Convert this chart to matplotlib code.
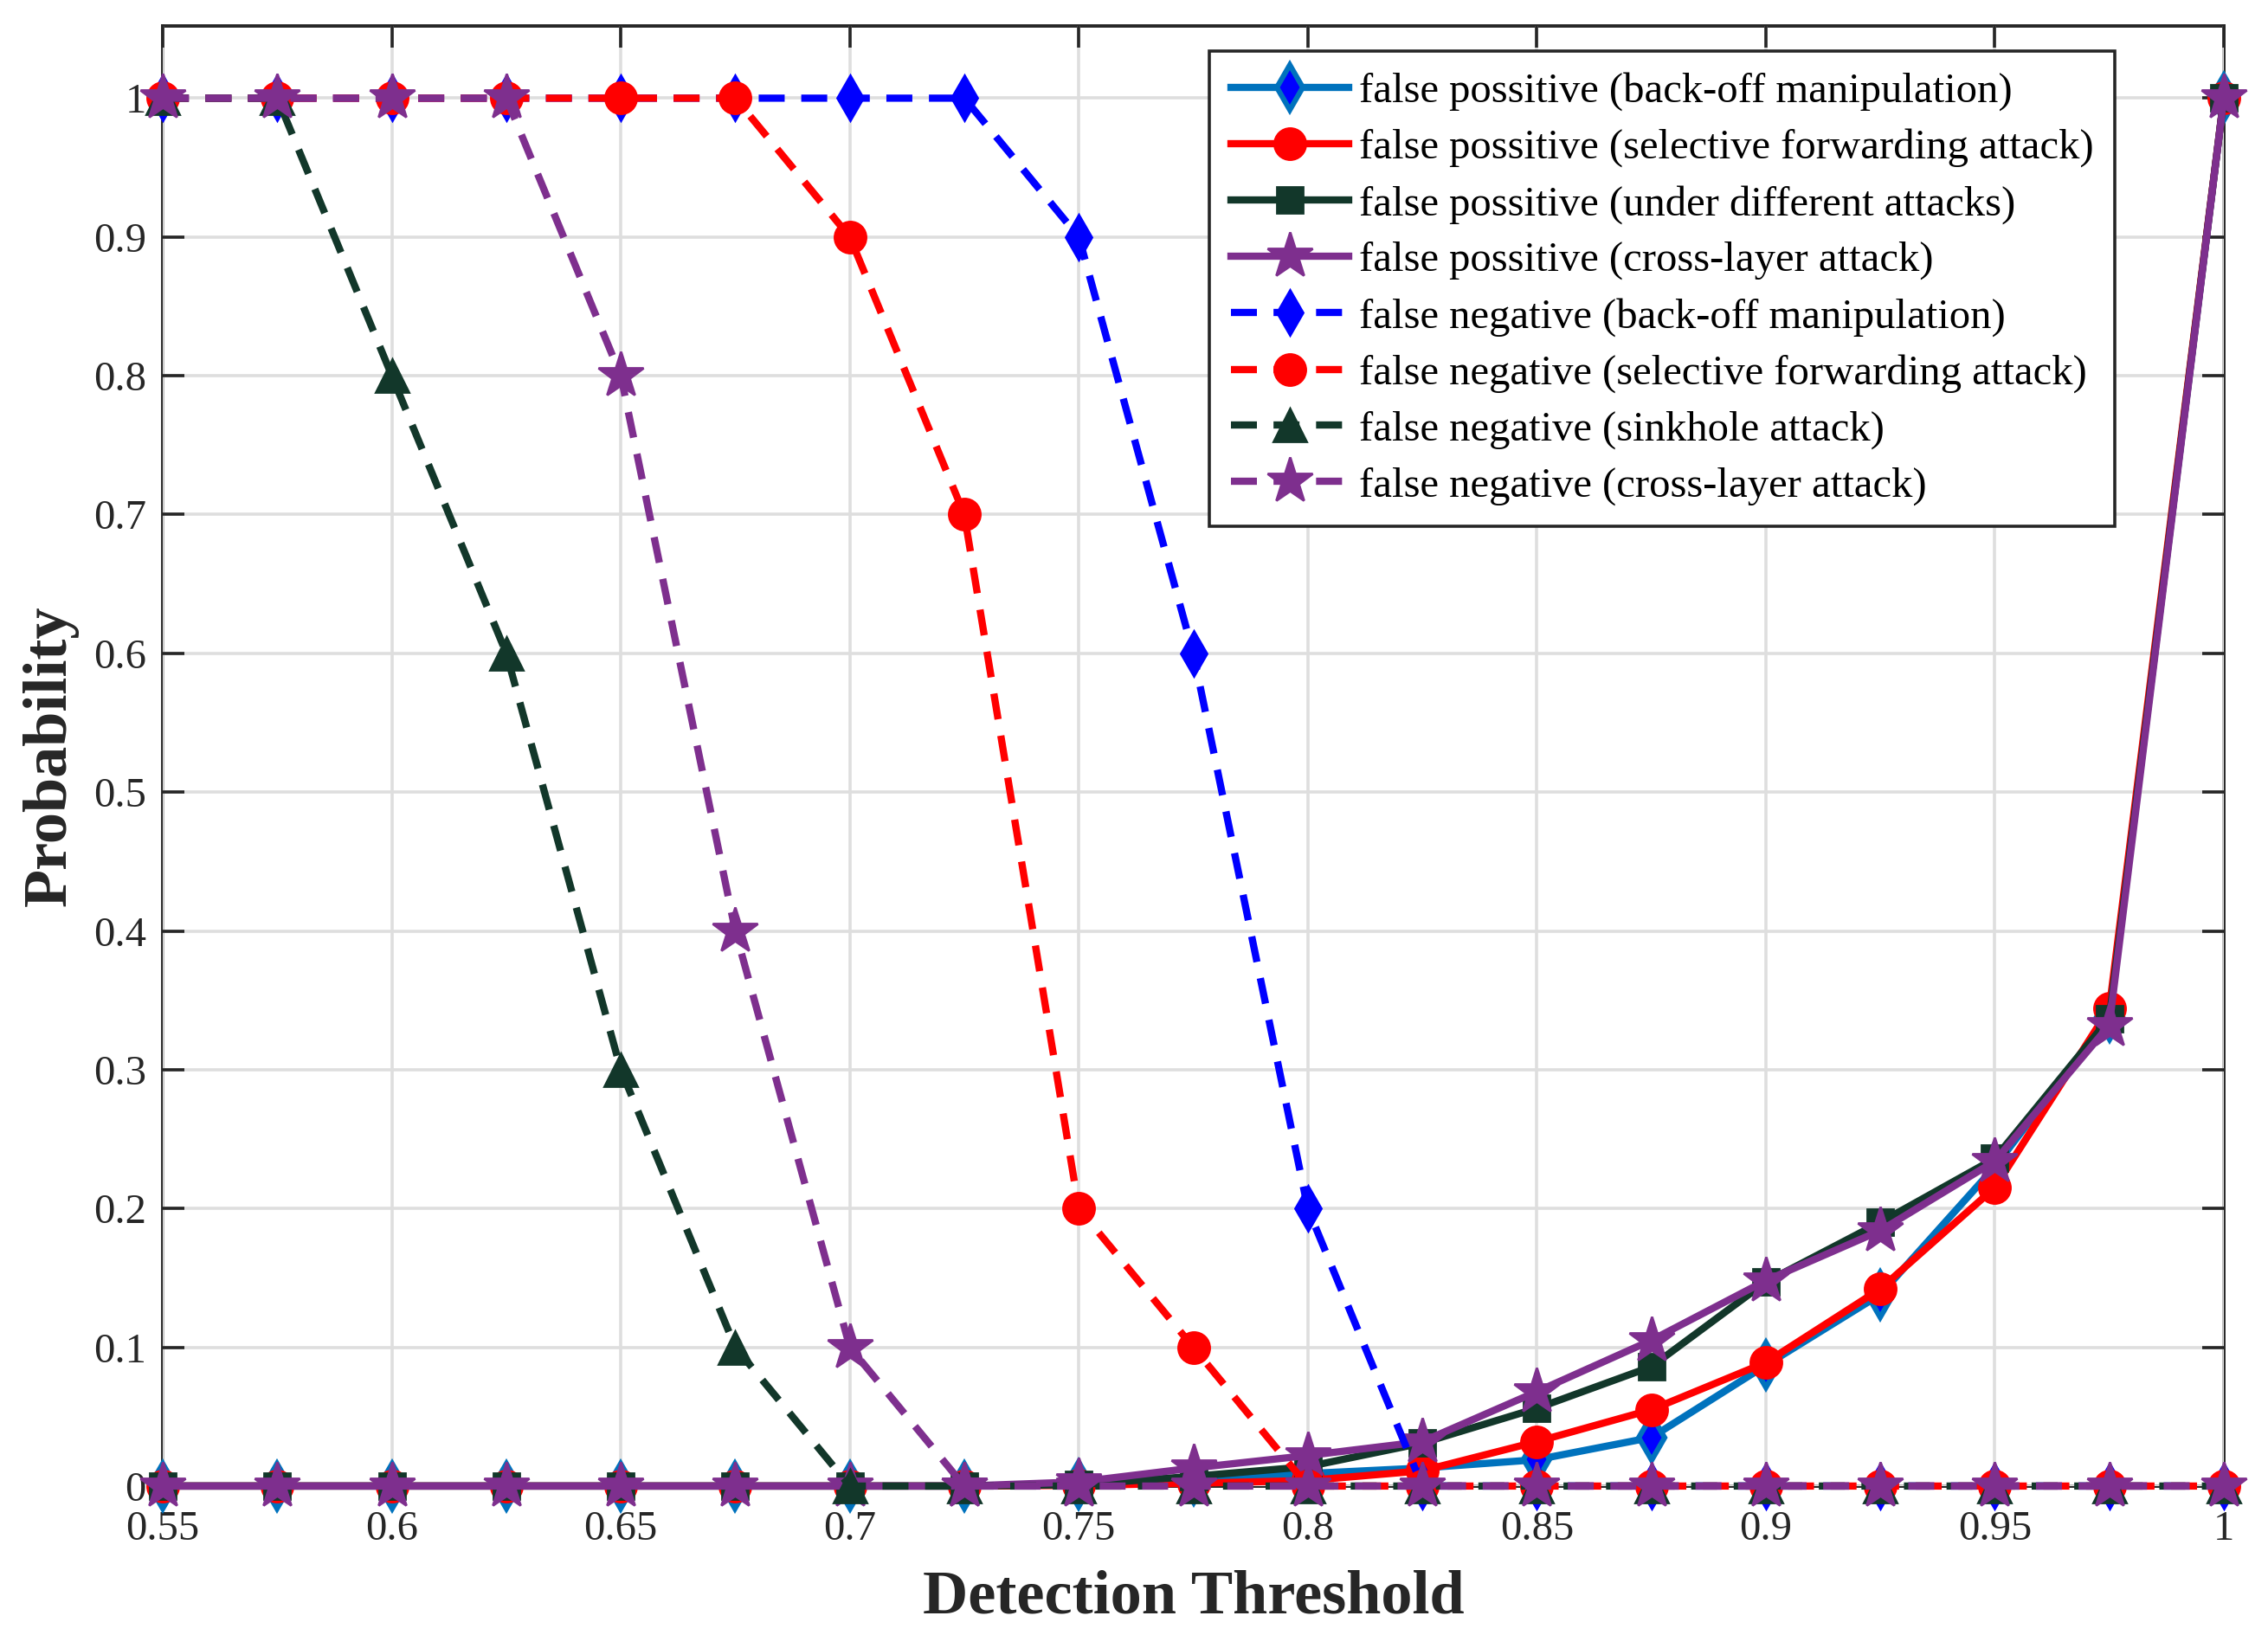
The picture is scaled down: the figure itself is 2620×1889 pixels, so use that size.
import matplotlib
matplotlib.use('Agg')
import matplotlib.pyplot as plt
from matplotlib.ticker import FuncFormatter

plt.rcParams['font.family'] = ['Liberation Serif', 'DejaVu Serif']

# detection thresholds
thresholds = [0.55, 0.575, 0.6, 0.625, 0.65, 0.675, 0.7, 0.725, 0.75, 0.775,
              0.8, 0.825, 0.85, 0.875, 0.9, 0.925, 0.95, 0.975, 1.0]

# false positive curves
fp_backoff = [0, 0, 0, 0, 0, 0, 0, 0, 0.001, 0.004,
              0.009, 0.013, 0.019, 0.035, 0.087, 0.138, 0.23, 0.338, 1.0]
fp_selective = [0, 0, 0, 0, 0, 0, 0, 0, 0.0005, 0.002,
                0.004, 0.011, 0.032, 0.055, 0.089, 0.142, 0.215, 0.344, 1.0]
fp_different = [0, 0, 0, 0, 0, 0, 0, 0, 0.001, 0.007,
                0.014, 0.031, 0.056, 0.086, 0.147, 0.19, 0.236, 0.337, 1.0]
fp_crosslayer = [0, 0, 0, 0, 0, 0, 0, 0, 0.003, 0.013,
                 0.022, 0.032, 0.068, 0.105, 0.148, 0.184, 0.234, 0.332, 1.0]

# false negative curves
fn_backoff = [1, 1, 1, 1, 1, 1, 1, 1, 0.9, 0.6,
              0.2, 0, 0, 0, 0, 0, 0, 0, 0]
fn_selective = [1, 1, 1, 1, 1, 1, 0.9, 0.7, 0.2, 0.1,
                0, 0, 0, 0, 0, 0, 0, 0, 0]
fn_sinkhole = [1, 1, 0.8, 0.6, 0.3, 0.1, 0, 0, 0, 0,
               0, 0, 0, 0, 0, 0, 0, 0, 0]
fn_crosslayer = [1, 1, 1, 1, 0.8, 0.4, 0.1, 0, 0, 0,
                 0, 0, 0, 0, 0, 0, 0, 0, 0]

labels = ['false possitive (back-off manipulation)',
          'false possitive (selective forwarding attack)',
          'false possitive (under different attacks)',
          'false possitive (cross-layer attack)',
          'false negative (back-off manipulation)',
          'false negative (selective forwarding attack)',
          'false negative (sinkhole attack)',
          'false negative (cross-layer attack)']

steel = '#0072BD'
blue = '#0000FF'
red = '#FF0000'
dgreen = '#12372A'
purple = '#7E2F8E'
text_col = '#262626'

fig = plt.figure(figsize=(13.1, 9.445), dpi=200)
ax = fig.add_axes([0.0718, 0.0911, 0.9087, 0.893])

lw = 3.0
common = dict(lw=lw, clip_on=False)
ax.plot(thresholds, fp_backoff, '-', color=steel, marker='d', ms=13,
        mfc=blue, mec=steel, mew=2.2, label=labels[0], **common)
ax.plot(thresholds, fp_selective, '-', color=red, marker='o', ms=13,
        mfc=red, mec=red, label=labels[1], **common)
ax.plot(thresholds, fp_different, '-', color=dgreen, marker='s', ms=11,
        mfc=dgreen, mec=dgreen, label=labels[2], **common)
ax.plot(thresholds, fp_crosslayer, '-', color=purple, marker='*', ms=20,
        mfc=purple, mec=purple, label=labels[3], **common)

dash = (3.6, 2.3)
ax.plot(thresholds, fn_backoff, '--', dashes=dash, color=blue, marker='d', ms=13,
        mfc=blue, mec=blue, label=labels[4], **common)
ax.plot(thresholds, fn_selective, '--', dashes=dash, color=red, marker='o', ms=13,
        mfc=red, mec=red, label=labels[5], **common)
ax.plot(thresholds, fn_sinkhole, '--', dashes=dash, color=dgreen, marker='^', ms=14,
        mfc=dgreen, mec=dgreen, label=labels[6], **common)
ax.plot(thresholds, fn_crosslayer, '--', dashes=dash, color=purple, marker='*', ms=20,
        mfc=purple, mec=purple, label=labels[7], **common)

ax.set_xlim(0.55, 1.0)
ax.set_ylim(0, 1.052)
ax.set_xticks([0.55, 0.6, 0.65, 0.7, 0.75, 0.8, 0.85, 0.9, 0.95, 1.0])
ax.set_yticks([0, 0.1, 0.2, 0.3, 0.4, 0.5, 0.6, 0.7, 0.8, 0.9, 1.0])
fmt = FuncFormatter(lambda v, p: f'{v:g}')
ax.xaxis.set_major_formatter(fmt)
ax.yaxis.set_major_formatter(fmt)

ax.grid(True, color='#DEDEDE', lw=1.3)
ax.set_axisbelow(True)
ax.tick_params(direction='in', length=9, width=1.3, labelsize=17.5,
               colors=text_col, top=True, right=True, pad=7)
ax.tick_params(axis='x', pad=10)
for s in ax.spines.values():
    s.set_color(text_col)
    s.set_linewidth(1.4)
    s.set_zorder(0.5)

ax.set_xlabel('Detection Threshold', fontsize=26, fontweight='bold', color=text_col, labelpad=9)
ax.set_ylabel('Probability', fontsize=26, fontweight='bold', color=text_col, labelpad=6)

leg = ax.legend(loc='upper right', bbox_to_anchor=(0.947, 0.983), borderaxespad=0,
                fontsize=17.5, handlelength=2.8, handletextpad=0.25,
                labelspacing=0.42, borderpad=0.5, fancybox=False, framealpha=1)
leg.get_frame().set_edgecolor(text_col)
leg.get_frame().set_linewidth(1.3)

fig.savefig('out.png', dpi=200)
